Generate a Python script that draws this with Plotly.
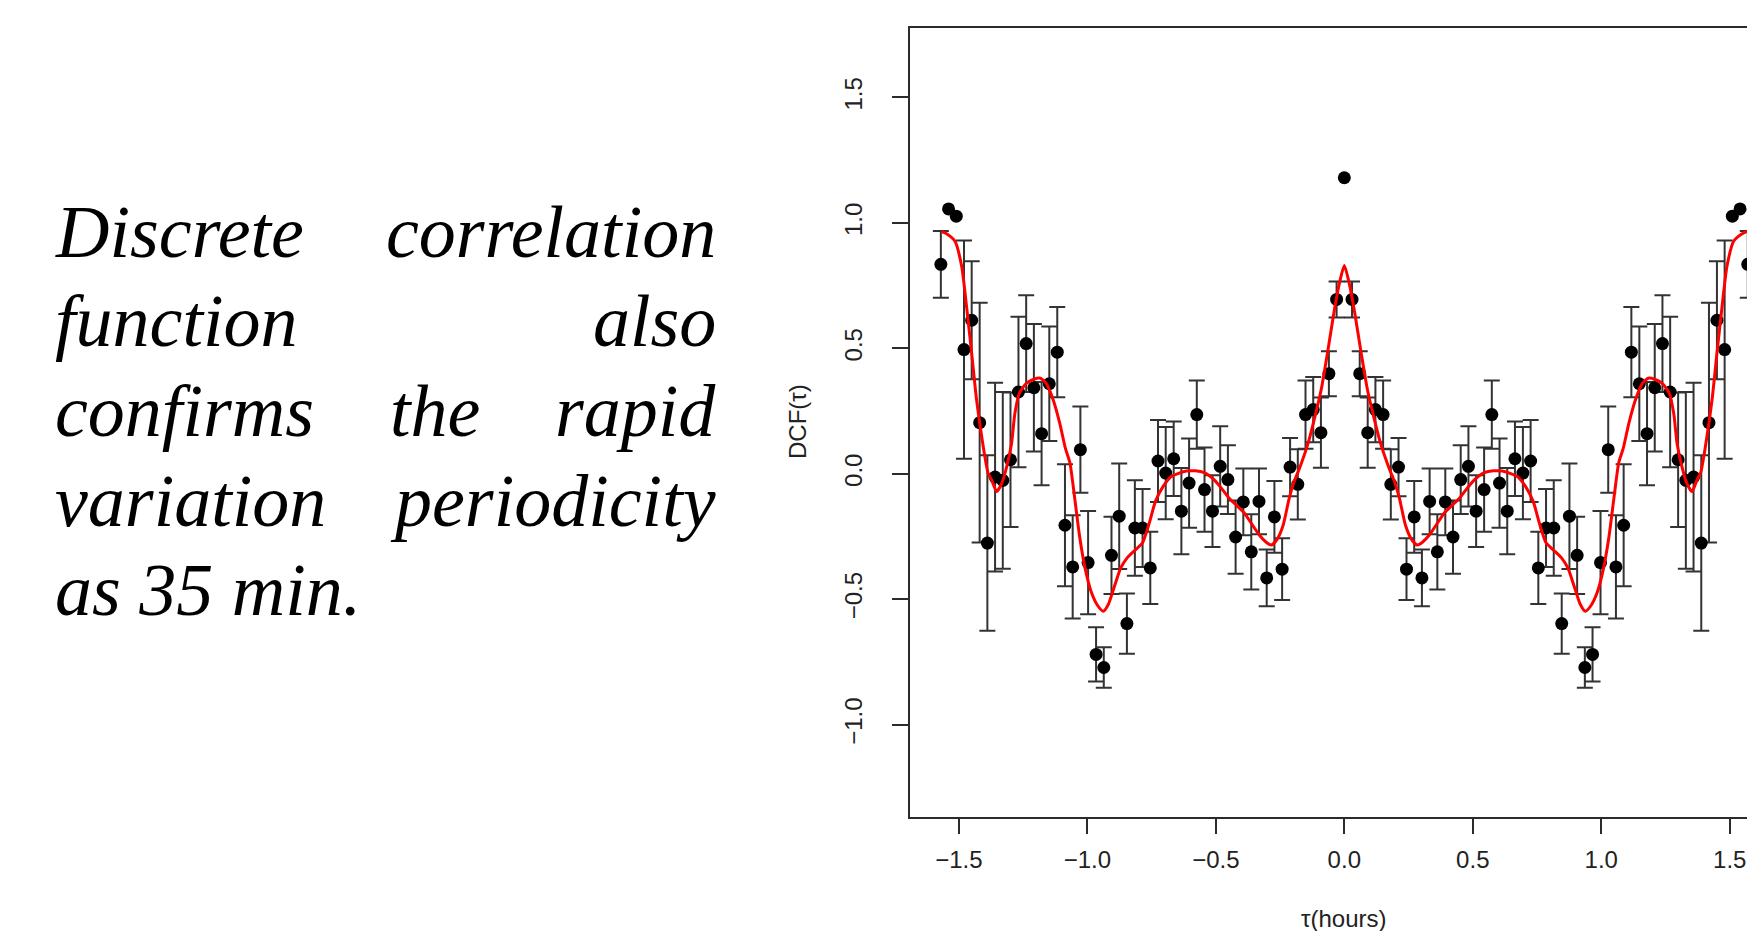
import plotly.graph_objects as go

# ---------------- data ----------------
TAU = [-1.570, -1.540, -1.510, -1.480, -1.450, -1.419, -1.389, -1.359, -1.329, -1.299,
       -1.268, -1.238, -1.208, -1.178, -1.148, -1.117, -1.087, -1.057, -1.027, -0.997,
       -0.966, -0.936, -0.906, -0.876, -0.846, -0.815, -0.785, -0.755, -0.725, -0.695,
       -0.664, -0.634, -0.604, -0.574, -0.544, -0.513, -0.483, -0.453, -0.423, -0.393,
       -0.362, -0.332, -0.302, -0.272, -0.242, -0.211, -0.181, -0.151, -0.121, -0.091,
       -0.060, -0.030, 0.000,
       0.030, 0.060, 0.091, 0.121, 0.151, 0.181, 0.211, 0.242, 0.272, 0.302,
       0.332, 0.362, 0.393, 0.423, 0.453, 0.483, 0.513, 0.544, 0.574, 0.604,
       0.634, 0.664, 0.695, 0.725, 0.755, 0.785, 0.815, 0.846, 0.876, 0.906,
       0.936, 0.966, 0.997, 1.027, 1.057, 1.087, 1.117, 1.148, 1.178, 1.208,
       1.238, 1.268, 1.299, 1.329, 1.359, 1.389, 1.419, 1.450, 1.480, 1.510,
       1.540, 1.570]

DCF = [0.835, 1.056, 1.027, 0.495, 0.612, 0.204, -0.276, -0.013, -0.026, 0.056,
       0.326, 0.519, 0.343, 0.160, 0.359, 0.485, -0.205, -0.371, 0.096, -0.354,
       -0.720, -0.772, -0.325, -0.169, -0.597, -0.216, -0.216, -0.375, 0.051, 0.003,
       0.060, -0.149, -0.037, 0.236, -0.063, -0.149, 0.030, -0.023, -0.252, -0.112,
       -0.311, -0.110, -0.415, -0.172, -0.380, 0.027, -0.042, 0.236, 0.256, 0.164,
       0.399, 0.695, 1.180,
       0.695, 0.399, 0.164, 0.256, 0.236, -0.042, 0.027, -0.380, -0.172, -0.415,
       -0.110, -0.311, -0.112, -0.252, -0.023, 0.030, -0.149, -0.063, 0.236, -0.037,
       -0.149, 0.060, 0.003, 0.051, -0.375, -0.216, -0.216, -0.597, -0.169, -0.325,
       -0.772, -0.720, -0.354, 0.096, -0.371, -0.205, 0.485, 0.359, 0.160, 0.343,
       0.519, 0.326, 0.056, -0.026, -0.013, -0.276, 0.204, 0.612, 0.495, 1.027,
       1.056, 0.835]

# None = no error bar drawn for that lag
ERR = [0.133, None, None, 0.435, 0.235, 0.478, 0.350, 0.376, 0.352, 0.268,
       0.300, 0.193, 0.254, 0.206, 0.228, 0.180, 0.243, 0.206, 0.172, 0.206,
       0.108, 0.081, 0.154, 0.210, 0.120, 0.190, 0.155, 0.144, 0.163, 0.184,
       0.148, 0.172, 0.178, 0.136, 0.168, 0.143, 0.160, 0.137, 0.146, 0.133,
       0.150, 0.131, 0.113, 0.143, 0.123, 0.116, 0.140, 0.136, 0.130, 0.140,
       0.090, 0.072, None,
       0.072, 0.090, 0.140, 0.130, 0.136, 0.140, 0.116, 0.123, 0.143, 0.113,
       0.131, 0.150, 0.133, 0.146, 0.137, 0.160, 0.143, 0.168, 0.136, 0.178,
       0.172, 0.148, 0.184, 0.163, 0.144, 0.155, 0.190, 0.120, 0.210, 0.154,
       0.081, 0.108, 0.206, 0.172, 0.206, 0.243, 0.180, 0.228, 0.206, 0.254,
       0.193, 0.300, 0.268, 0.352, 0.376, 0.350, 0.478, 0.235, 0.435, None,
       None, 0.133]

# smoothed fit (red curve)
FIT_TAU = [-1.567, -1.545, -1.515, -1.489, -1.470, -1.450, -1.431, -1.405, -1.386, -1.372,
           -1.353, -1.333, -1.314, -1.295, -1.282, -1.265, -1.238, -1.210, -1.183, -1.160,
           -1.133, -1.107, -1.085, -1.068, -1.050, -1.030, -1.008, -0.985, -0.960, -0.938,
           -0.918, -0.895, -0.870, -0.845, -0.815, -0.785, -0.760, -0.735, -0.705, -0.675,
           -0.650, -0.615, -0.580, -0.545, -0.510, -0.480, -0.450, -0.420, -0.390, -0.360,
           -0.330, -0.305, -0.284, -0.262, -0.238, -0.215, -0.195, -0.175, -0.140, -0.115,
           -0.090, -0.065, -0.040, -0.020, 0.000,
           0.020, 0.040, 0.065, 0.090, 0.115, 0.140, 0.175, 0.195, 0.215, 0.238,
           0.262, 0.284, 0.305, 0.330, 0.360, 0.390, 0.420, 0.450, 0.480, 0.510,
           0.545, 0.580, 0.615, 0.650, 0.675, 0.705, 0.735, 0.760, 0.785, 0.815,
           0.845, 0.870, 0.895, 0.918, 0.938, 0.960, 0.985, 1.008, 1.030, 1.050,
           1.068, 1.085, 1.107, 1.133, 1.160, 1.183, 1.210, 1.238, 1.265, 1.282,
           1.295, 1.314, 1.333, 1.353, 1.372, 1.386, 1.405, 1.431, 1.450, 1.470,
           1.489, 1.515, 1.545, 1.567]
FIT_V = [0.966, 0.955, 0.927, 0.827, 0.667, 0.480, 0.295, 0.108, 0.002, -0.025,
         -0.071, -0.038, 0.028, 0.120, 0.240, 0.320, 0.360, 0.376, 0.381, 0.360,
         0.295, 0.200, 0.100, 0.045, -0.090, -0.250, -0.380, -0.470, -0.525, -0.548,
         -0.520, -0.450, -0.375, -0.335, -0.305, -0.275, -0.200, -0.110, -0.050, -0.012,
         0.000, 0.011, 0.012, 0.005, -0.020, -0.055, -0.095, -0.125, -0.155, -0.200,
         -0.245, -0.272, -0.284, -0.262, -0.205, -0.100, -0.030, 0.020, 0.125, 0.225,
         0.335, 0.485, 0.645, 0.755, 0.830,
         0.755, 0.645, 0.485, 0.335, 0.225, 0.125, 0.020, -0.030, -0.100, -0.205,
         -0.262, -0.284, -0.272, -0.245, -0.200, -0.155, -0.125, -0.095, -0.055, -0.020,
         0.005, 0.012, 0.011, 0.000, -0.012, -0.050, -0.110, -0.200, -0.275, -0.305,
         -0.335, -0.375, -0.450, -0.520, -0.548, -0.525, -0.470, -0.380, -0.250, -0.090,
         0.045, 0.100, 0.200, 0.295, 0.360, 0.381, 0.376, 0.360, 0.320, 0.240,
         0.120, 0.028, -0.038, -0.071, -0.025, 0.002, 0.108, 0.295, 0.480, 0.667,
         0.827, 0.927, 0.955, 0.966]

X_TICKS = [-1.5, -1.0, -0.5, 0.0, 0.5, 1.0, 1.5]
X_TICKTEXT = ["\u22121.5", "\u22121.0", "\u22120.5", "0.0", "0.5", "1.0", "1.5"]
Y_TICKS = [-1.0, -0.5, 0.0, 0.5, 1.0, 1.5]
Y_TICKTEXT = ["\u22121.0", "\u22120.5", "0.0", "0.5", "1.0", "1.5"]

# text block (justified lines, one entry per word)
TEXT_WORDS = [
    ("Discrete", 0, "left"), ("correlation", 0, "right"),
    ("function", 1, "left"), ("also", 1, "right"),
    ("confirms", 2, "left"), ("the", 2, "center"), ("rapid", 2, "right"),
    ("variation", 3, "left"), ("periodicity", 3, "right"),
    ("as 35 min.", 4, "left"),
]

# ---------------- figure ----------------
W, H = 1747, 931
AX = "#2b2b2b"
SANS = "Liberation Sans, Arial, sans-serif"

with_err = [i for i, e in enumerate(ERR) if e is not None]
no_err = [i for i, e in enumerate(ERR) if e is None]

fig = go.Figure()
fig.add_trace(go.Scatter(
    x=[TAU[i] for i in with_err], y=[DCF[i] for i in with_err], mode="markers",
    marker=dict(color="black", size=13),
    error_y=dict(type="data", array=[ERR[i] for i in with_err], symmetric=True,
                 color="#333333", thickness=2, width=8),
    hoverinfo="skip",
))
fig.add_trace(go.Scatter(
    x=[TAU[i] for i in no_err], y=[DCF[i] for i in no_err], mode="markers",
    marker=dict(color="black", size=13),
    hoverinfo="skip",
))
fig.add_trace(go.Scatter(
    x=FIT_TAU, y=FIT_V, mode="lines",
    line=dict(color="#ff0000", width=3, shape="spline", smoothing=0.6),
    hoverinfo="skip",
))

x_left_px = 909.5
fig.update_layout(
    width=W, height=H, autosize=False,
    margin=dict(l=0, r=0, t=0, b=0),
    paper_bgcolor="white", plot_bgcolor="white",
    showlegend=False,
    xaxis=dict(
        domain=[x_left_px / W, 1.0], range=[-1.692, 1.567],
        tickmode="array", tickvals=X_TICKS, ticktext=X_TICKTEXT,
        ticks="outside", ticklen=15, tickwidth=2, tickcolor=AX,
        ticklabelstandoff=5,
        showline=True, linewidth=2, linecolor=AX, mirror=True,
        showgrid=False, zeroline=False,
        tickfont=dict(family=SANS, size=24, color="#222222"),
    ),
    yaxis=dict(
        domain=[(H - 817) / H, (H - 28) / H], range=[-1.368, 1.777],
        tickmode="array", tickvals=Y_TICKS, ticktext=Y_TICKTEXT,
        tickangle=-90, ticklabelstandoff=20,
        ticks="outside", ticklen=16, tickwidth=2, tickcolor=AX,
        showline=True, linewidth=2, linecolor=AX,
        showgrid=False, zeroline=False,
        tickfont=dict(family=SANS, size=24, color="#222222"),
    ),
)

# axis titles
fig.add_annotation(text="DCF(\u03c4)", x=797 / W, y=1 - 422 / H, xref="paper", yref="paper",
                   textangle=-90, showarrow=False, xanchor="center", yanchor="middle",
                   font=dict(family=SANS, size=24, color="#222222"), borderpad=0)
fig.add_annotation(text="\u03c4(hours)", x=1344 / W, y=1 - 918 / H, xref="paper", yref="paper",
                   showarrow=False, xanchor="center", yanchor="middle",
                   font=dict(family=SANS, size=24, color="#222222"), borderpad=0)

# justified italic paragraph on the left
LINE_CENTERS = [232.0, 321.5, 411.0, 500.5, 590.0]
X_POS = {"left": 55, "right": 716, "center": 435}
for word, line, anchor in TEXT_WORDS:
    fig.add_annotation(
        text="<i>" + word + "</i>", x=X_POS[anchor] / W, y=1 - LINE_CENTERS[line] / H,
        xref="paper", yref="paper", showarrow=False,
        xanchor=anchor, yanchor="middle", borderpad=0, borderwidth=0,
        font=dict(family="Liberation Serif, Times New Roman, serif", size=74, color="black"),
    )

fig.write_html("out.html")
